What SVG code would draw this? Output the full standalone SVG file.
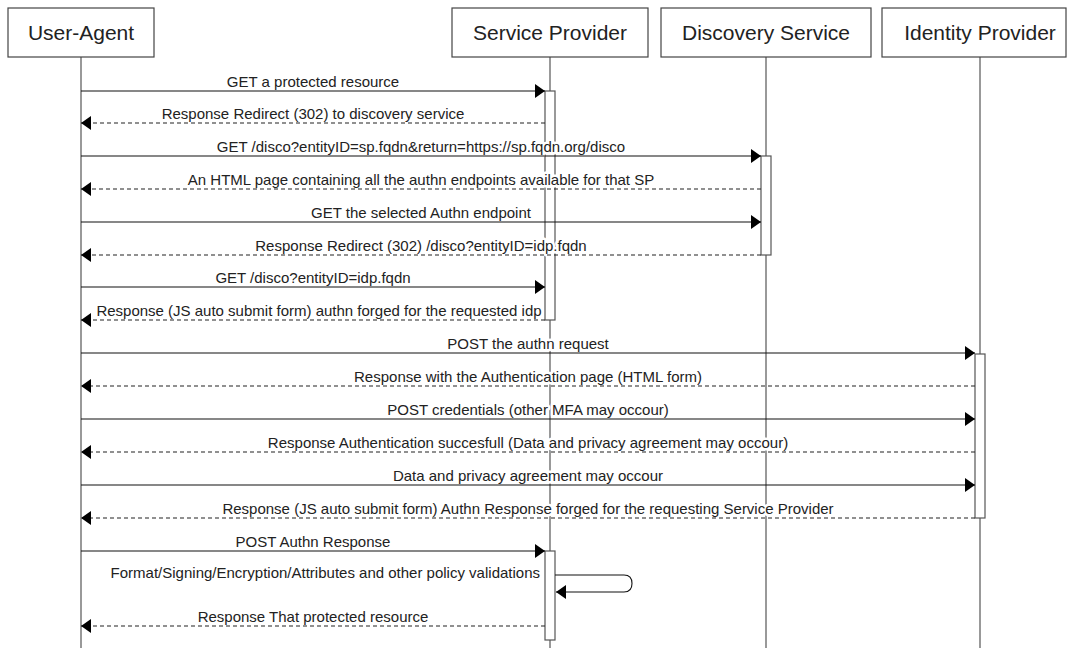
<svg xmlns="http://www.w3.org/2000/svg" width="1068" height="648" viewBox="0 0 1068 648">
<defs>
<marker id="ah" viewBox="0 0 10 14" refX="10" refY="7" markerWidth="10" markerHeight="14" markerUnits="userSpaceOnUse" orient="auto">
<path d="M0,0 L10,7 L0,14 Z" fill="#000"/>
</marker>
<style>
.box{fill:#fff;stroke:#444;stroke-width:1.2}
.hd{font-family:"Liberation Sans",Arial,sans-serif;font-size:21px;fill:#222;text-anchor:middle}
.life{stroke:#555;stroke-width:1.2;fill:none}
.bar{fill:#fff;stroke:#555;stroke-width:1.2}
.msg{stroke:#111;stroke-width:1.1;fill:none;marker-end:url(#ah)}
.ret{stroke:#222;stroke-width:1.1;fill:none;stroke-dasharray:4 3;marker-end:url(#ah)}
.lbl{font-family:"Liberation Sans",Arial,sans-serif;font-size:15px;fill:#222;text-anchor:middle;paint-order:stroke;stroke:#fff;stroke-width:5px;stroke-linejoin:round}
</style>
</defs>
<rect width="1068" height="648" fill="#fff"/>
<g id="user-agent">
<line class="life" x1="81" y1="57" x2="81" y2="648"/>
<rect class="box" x="8" y="8" width="146" height="49"/>
<text class="hd" x="81" y="40">User-Agent</text>
</g>
<g id="service-provider">
<line class="life" x1="550" y1="57" x2="550" y2="648"/>
<rect class="box" x="452" y="8" width="196" height="49"/>
<text class="hd" x="550" y="40">Service Provider</text>
<rect class="bar" x="545" y="91" width="10" height="229"/>
<rect class="bar" x="545" y="551" width="10" height="89"/>
</g>
<g id="discovery-service">
<line class="life" x1="766" y1="57" x2="766" y2="648"/>
<rect class="box" x="661" y="8" width="210" height="49"/>
<text class="hd" x="766" y="40">Discovery Service</text>
<rect class="bar" x="761" y="156" width="10" height="99"/>
</g>
<g id="identity-provider">
<line class="life" x1="980" y1="57" x2="980" y2="648"/>
<rect class="box" x="882" y="8" width="184" height="49"/>
<text class="hd" x="980" y="40">Identity Provider</text>
<rect class="bar" x="975" y="354" width="10" height="164"/>
</g>
<g id="labels">
<text class="lbl" x="313" y="87">GET a protected resource</text>
<text class="lbl" x="313" y="119">Response Redirect (302) to discovery service</text>
<text class="lbl" x="421" y="152">GET /disco?entityID=sp.fqdn&amp;return=https://sp.fqdn.org/disco</text>
<text class="lbl" x="421" y="185">An HTML page containing all the authn endpoints available for that SP</text>
<text class="lbl" x="421" y="218">GET the selected Authn endpoint</text>
<text class="lbl" x="421" y="251">Response Redirect (302) /disco?entityID=idp.fqdn</text>
<text class="lbl" x="313" y="283">GET /disco?entityID=idp.fqdn</text>
<text class="lbl" x="319" y="316">Response (JS auto submit form) authn forged for the requested idp</text>
<text class="lbl" x="528" y="349">POST the authn request</text>
<text class="lbl" x="528" y="382">Response with the Authentication page (HTML form)</text>
<text class="lbl" x="528" y="415">POST credentials (other MFA may occour)</text>
<text class="lbl" x="528" y="448">Response Authentication succesfull (Data and privacy agreement may occour)</text>
<text class="lbl" x="528" y="481">Data and privacy agreement may occour</text>
<text class="lbl" x="528" y="514">Response (JS auto submit form) Authn Response forged for the requesting Service Provider</text>
<text class="lbl" x="313" y="547">POST Authn Response</text>
<text class="lbl" x="540" y="578" style="text-anchor:end">Format/Signing/Encryption/Attributes and other policy validations</text>
<text class="lbl" x="313" y="622">Response That protected resource</text>
</g>
<g id="connectors">
<line class="msg" x1="81" y1="91" x2="545" y2="91"/>
<line class="ret" x1="545" y1="123" x2="81" y2="123"/>
<line class="msg" x1="81" y1="156" x2="761" y2="156"/>
<line class="ret" x1="761" y1="189" x2="81" y2="189"/>
<line class="msg" x1="81" y1="222" x2="761" y2="222"/>
<line class="ret" x1="761" y1="255" x2="81" y2="255"/>
<line class="msg" x1="81" y1="287" x2="545" y2="287"/>
<line class="ret" x1="545" y1="320" x2="81" y2="320"/>
<line class="msg" x1="81" y1="353" x2="975" y2="353"/>
<line class="ret" x1="975" y1="386" x2="81" y2="386"/>
<line class="msg" x1="81" y1="419" x2="975" y2="419"/>
<line class="ret" x1="975" y1="452" x2="81" y2="452"/>
<line class="msg" x1="81" y1="485" x2="975" y2="485"/>
<line class="ret" x1="975" y1="518" x2="81" y2="518"/>
<line class="msg" x1="81" y1="551" x2="545" y2="551"/>
<path class="msg" d="M555,575 L624,575 Q632,575 632,583.5 Q632,592 624,592 L556,592"/>
<line class="ret" x1="545" y1="626" x2="81" y2="626"/>
</g>
</svg>
